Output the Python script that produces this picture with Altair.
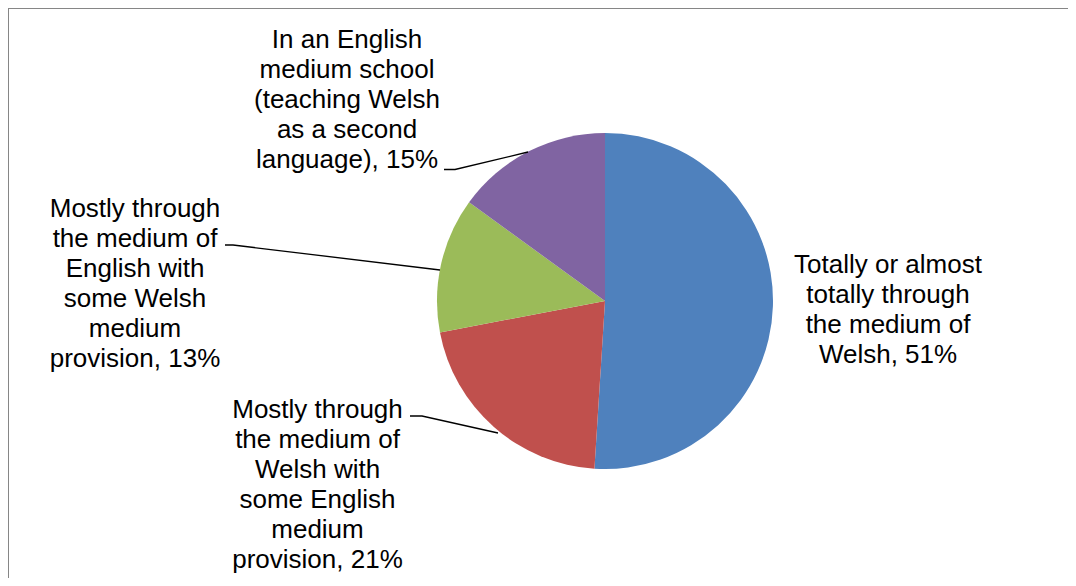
import altair as alt
import pandas as pd

# ---- data ----
categories = [
    "Totally or almost totally through the medium of Welsh",
    "Mostly through the medium of Welsh with some English medium provision",
    "Mostly through the medium of English with some Welsh medium provision",
    "In an English medium school (teaching Welsh as a second language)",
]
values = [51, 21, 13, 15]
colors = ["#4F81BD", "#C0504D", "#9BBB59", "#8064A2"]

label_lines = [
    ["Totally or almost", "totally through", "the medium of", "Welsh"],
    ["Mostly through", "the medium of", "Welsh with", "some English", "medium", "provision"],
    ["Mostly through", "the medium of", "English with", "some Welsh", "medium", "provision"],
    ["In an English", "medium school", "(teaching Welsh", "as a second", "language)"],
]
# label anchor (centre x, first baseline y) in chart units
label_x = [880, 309.5, 127, 339]
label_y = [265, 410, 208.7, 40.3]

# leader lines: (label index, seq, x, y) in chart units
leader_label = [1, 1, 1, 2, 2, 2, 3, 3, 3]
leader_seq = [0, 1, 2, 0, 1, 2, 0, 1, 2]
leader_x = [402, 414, 490, 217, 225, 432, 436, 447, 520]
leader_y = [408, 408, 425, 237, 237, 262, 161.5, 161.5, 144]

W, H = 1060, 570
CX, CY, R = 597, 293, 168

pie_df = pd.DataFrame({"category": categories, "value": values, "idx": range(len(values))})

lab_df = pd.DataFrame({
    "text": ["\n".join(l[:-1] + [f"{l[-1]}, {v}%"]) for l, v in zip(label_lines, values)],
    "x": label_x,
    "y": label_y,
})

lead_df = pd.DataFrame({"lab": leader_label, "seq": leader_seq, "x": leader_x, "y": leader_y})

xs = alt.Scale(domain=[0, W], range=[0, W])
ys = alt.Scale(domain=[0, H], range=[0, H])

pie = alt.Chart(pie_df).mark_arc(outerRadius=R).encode(
    theta=alt.Theta("value:Q", stack=True),
    color=alt.Color("category:N", scale=alt.Scale(domain=categories, range=colors), legend=None),
    order=alt.Order("idx:Q"),
    x=alt.value(CX),
    y=alt.value(CY),
)

leads = alt.Chart(lead_df).mark_line(color="#000000", strokeWidth=1.3).encode(
    x=alt.X("x:Q", scale=xs, axis=None),
    y=alt.Y("y:Q", scale=ys, axis=None),
    detail="lab:N",
    order="seq:Q",
)

texts = alt.Chart(lab_df).mark_text(
    align="center", baseline="alphabetic", lineBreak="\n", lineHeight=30,
    fontSize=26, font="Liberation Sans", color="#000000",
).encode(
    x=alt.X("x:Q", scale=xs, axis=None),
    y=alt.Y("y:Q", scale=ys, axis=None),
    text="text:N",
)

frame_top = alt.Chart(pd.DataFrame({"a": [0]})).mark_rule(color="#868686", strokeWidth=2).encode(
    x=alt.value(-1), x2=alt.value(W), y=alt.value(0)
)
frame_left = alt.Chart(pd.DataFrame({"a": [0]})).mark_rule(color="#868686", strokeWidth=2).encode(
    x=alt.value(0), y=alt.value(-1), y2=alt.value(H)
)

chart = alt.layer(frame_top, frame_left, pie, leads, texts).properties(
    width=W, height=H, padding=0, autosize=alt.AutoSizeParams(type="none"),
    background="#ffffff",
).configure_view(stroke=None)

chart.save("out.html", embed_options={"renderer": "svg", "actions": False})
